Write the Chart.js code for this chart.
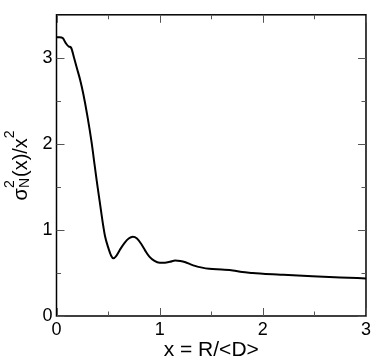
<!DOCTYPE html>
<html>
<head>
<meta charset="utf-8">
<script src="https://cdn.jsdelivr.net/npm/chart.js@4.4.1/dist/chart.umd.min.js"></script>
<style>
  html, body { margin: 0; padding: 0; background: #fff; }
  #wrap { width: 374px; height: 361px; }
</style>
</head>
<body>
<div id="wrap"><canvas id="chart" width="374" height="361"></canvas></div>
<script>
// x = R/<D>, y = sigma_N^2(x)/x^2
const xs = [0, 0.03, 0.06, 0.09, 0.12, 0.14, 0.17, 0.2, 0.23, 0.26, 0.3, 0.34, 0.37, 0.39, 0.42,
  0.45, 0.47, 0.5, 0.53, 0.55, 0.58, 0.62, 0.66, 0.7, 0.74, 0.78, 0.82, 0.86, 0.9, 0.95,
  1.0, 1.05, 1.1, 1.15, 1.2, 1.25, 1.3, 1.35, 1.4, 1.48, 1.6, 1.71, 1.8, 1.9, 2.0, 2.2,
  2.48, 2.75, 3.0];
const ys = [3.24, 3.24, 3.23, 3.17, 3.13, 3.12, 3.0, 2.87, 2.74, 2.58, 2.32, 2.02, 1.75, 1.57, 1.32,
  1.07, 0.93, 0.8, 0.7, 0.67, 0.7, 0.78, 0.85, 0.9, 0.92, 0.9, 0.84, 0.76, 0.69, 0.64,
  0.62, 0.62, 0.63, 0.645, 0.64, 0.625, 0.6, 0.58, 0.565, 0.548, 0.54, 0.53, 0.51, 0.5, 0.49, 0.478,
  0.462, 0.448, 0.437];

const xMajor = [0, 1, 2, 3];
const xMinor = [0.5, 1.5, 2.5];
const yMajor = [0, 1, 2, 3];
const yMinor = [0.5, 1.5, 2.5];

const FONT = "'Liberation Sans', Arial, Helvetica, sans-serif";

// inward ticks on all four sides, plus the frame
const frameTicks = {
  id: 'frameTicks',
  afterDraw(chart) {
    const { ctx, chartArea: a, scales: { x, y } } = chart;
    ctx.save();
    ctx.strokeStyle = '#000';
    ctx.lineWidth = 1.5;
    ctx.strokeRect(a.left, a.top, a.right - a.left, a.bottom - a.top);
    ctx.lineWidth = 1;
    ctx.strokeStyle = '#555';
    const tick = (x1, y1, x2, y2) => {
      ctx.beginPath();
      ctx.moveTo(x1, y1);
      ctx.lineTo(x2, y2);
      ctx.stroke();
    };
    xMajor.concat(xMinor).forEach(v => {
      const len = xMajor.includes(v) ? 8 : 4.5;
      const px = Math.round(x.getPixelForValue(v)) + 0.5;
      tick(px, a.bottom, px, a.bottom - len);
      tick(px, a.top, px, a.top + len);
    });
    yMajor.concat(yMinor).forEach(v => {
      const len = yMajor.includes(v) ? 8 : 4.5;
      const py = Math.round(y.getPixelForValue(v)) + 0.5;
      tick(a.left, py, a.left + len, py);
      tick(a.right, py, a.right - len, py);
    });

    // y title: sigma_N^2(x)/x^2, rotated
    ctx.fillStyle = '#000';
    ctx.translate(26.5, (a.top + a.bottom) / 2);
    ctx.rotate(-Math.PI / 2);
    ctx.textBaseline = 'alphabetic';
    const big = '20px ' + FONT;
    const small = '14px ' + FONT;
    ctx.font = big;
    const wSig = ctx.measureText('σ').width;
    const wMid = ctx.measureText('(x)/x').width;
    ctx.font = small;
    const wN = ctx.measureText('N').width;
    const w2 = ctx.measureText('2').width;
    const total = wSig + wN + 1 + wMid + w2;
    let cx = -total / 2;
    ctx.font = big;
    ctx.fillText('σ', cx, 0);
    cx += wSig;
    ctx.font = small;
    ctx.fillText('N', cx, 2);
    ctx.fillText('2', cx, -13);
    cx += wN + 1;
    ctx.font = big;
    ctx.fillText('(x)/x', cx, 0);
    cx += wMid;
    ctx.font = small;
    ctx.fillText('2', cx, -13);
    ctx.restore();
  }
};

new Chart(document.getElementById('chart'), {
  type: 'scatter',
  data: {
    datasets: [{
      data: xs.map((v, i) => ({ x: v, y: ys[i] })),
      showLine: true,
      borderColor: '#000',
      borderWidth: 2,
      pointRadius: 0,
      tension: 0.4,
      cubicInterpolationMode: 'monotone'
    }]
  },
  options: {
    responsive: false,
    animation: false,
    layout: { padding: { top: 5, right: 7, left: 0, bottom: 0 } },
    plugins: { legend: { display: false }, tooltip: { enabled: false } },
    scales: {
      x: {
        type: 'linear',
        min: 0,
        max: 3,
        grid: { display: false, drawTicks: false },
        border: { display: false },
        ticks: { stepSize: 1, padding: 3, color: '#000', font: { family: FONT, size: 18 } },
        title: { display: true, text: 'x = R/<D>', color: '#000', padding: { top: 0, bottom: -1 },
          font: { family: FONT, size: 21, lineHeight: 1.1 } },
        afterFit(s) { s.height = 45; }
      },
      y: {
        min: 0,
        max: 3.5,
        grid: { display: false, drawTicks: false },
        border: { display: false },
        ticks: { stepSize: 1, includeBounds: false, padding: 4, color: '#000',
          font: { family: FONT, size: 18 } },
        afterFit(s) { s.width = 56.5; }
      }
    }
  },
  plugins: [frameTicks]
});
</script>
</body>
</html>
